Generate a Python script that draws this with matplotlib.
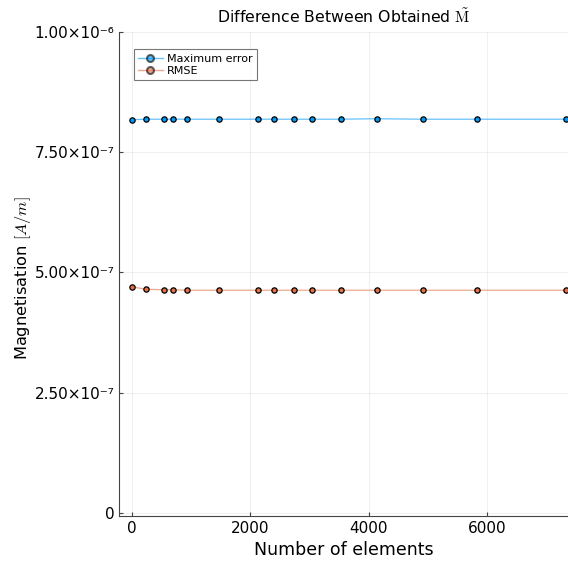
import matplotlib.pyplot as plt

plt.rcParams['font.family'] = 'DejaVu Sans'
plt.rcParams['mathtext.fontset'] = 'cm'

# Numero de elementos de cada malla
elementos = [0, 247, 546, 693, 935, 1471, 2123, 2401, 2739, 3048, 3533, 4130, 4913, 5826, 7320]

# Errores de la magnetizacion
error_maximo = [8.17e-7, 8.18e-7, 8.18e-7, 8.18e-7, 8.18e-7, 8.18e-7, 8.18e-7, 8.18e-7,
                8.18e-7, 8.18e-7, 8.18e-7, 8.19e-7, 8.18e-7, 8.18e-7, 8.18e-7]
rmse = [4.70e-7, 4.65e-7, 4.64e-7, 4.64e-7, 4.63e-7, 4.63e-7, 4.63e-7, 4.63e-7,
        4.63e-7, 4.63e-7, 4.63e-7, 4.63e-7, 4.63e-7, 4.63e-7, 4.63e-7]

yticks = [0, 2.5e-7, 5.0e-7, 7.5e-7, 1.0e-6]
ytick_labels = ["0", "2.50×10⁻⁷", "5.00×10⁻⁷", "7.50×10⁻⁷", "1.00×10⁻⁶"]
xticks = [0, 2000, 4000, 6000]

azul = "#009AFA"
naranja = "#E36F47"

fig = plt.figure(figsize=(5.68, 5.63), dpi=100)
ax = fig.add_axes([0.21, 0.084, 0.79, 0.86])

for datos, color, nombre in [(error_maximo, azul, "Maximum error"), (rmse, naranja, "RMSE")]:
    ax.plot(elementos, datos, color=color, lw=0.9, alpha=0.6)
    ax.plot(elementos, datos, ls="none", marker="o", ms=3.8, mfc=color, mec="black", mew=0.9)
    # entrada de leyenda con linea y marcador
    ax.plot([], [], color=color, lw=1.0, alpha=0.6, marker="o", ms=5, mfc=color,
            mec="black", mew=1.5, label=nombre)

ax.set_xlim(-210, 7360)
ax.set_ylim(-5e-9, 1.0e-6)
ax.set_xticks(xticks)
ax.set_yticks(yticks)
ax.set_yticklabels(ytick_labels)
ax.tick_params(direction="in", length=3, labelsize=11, color="#444444")

for lado in ["top", "right"]:
    ax.spines[lado].set_visible(False)
for lado in ["left", "bottom"]:
    ax.spines[lado].set_color("#444444")
ax.grid(True, color="#000000", alpha=0.06, lw=0.8)

ax.set_xlabel("Number of elements", fontsize=12.5)
ax.set_ylabel(r"Magnetisation $[A/m]$", fontsize=11.7)
ax.yaxis.set_label_coords(-0.192, 0.49)
ax.set_title(r"Difference Between Obtained $\tilde{\mathrm{M}}$", fontsize=11.3)

leg = ax.legend(loc="upper left", bbox_to_anchor=(0.02, 0.975), fontsize=8,
                frameon=True, fancybox=False, handlelength=2.2, borderpad=0.4,
                labelspacing=0.2, handletextpad=0.4)
leg.get_frame().set_edgecolor("#555555")
leg.get_frame().set_linewidth(0.8)

plt.savefig("out.png", dpi=100)
